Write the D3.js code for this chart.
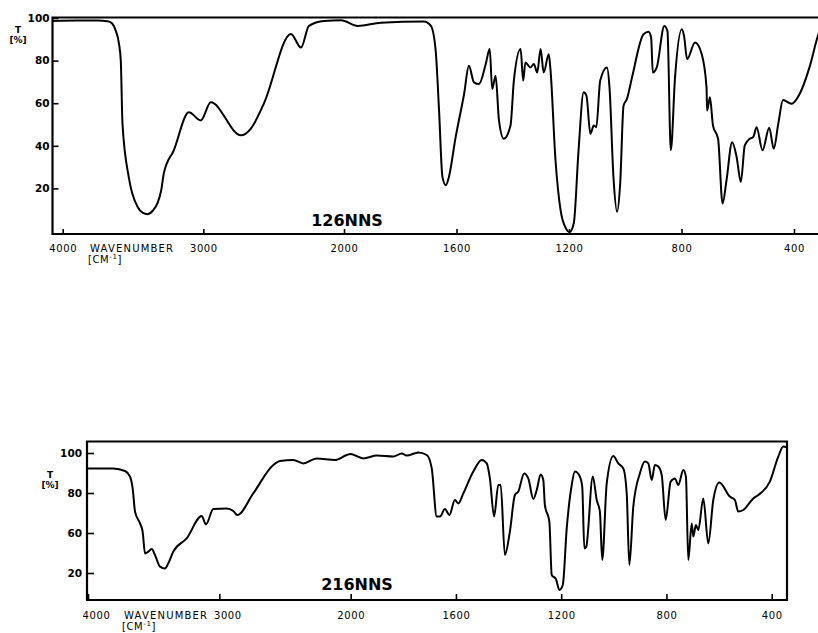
<!DOCTYPE html>
<html>
<head>
	<meta charset="utf-8">
	<title>IR spectra 126NNS / 216NNS</title>
	<script type="text/javascript" src="https://cdn.jsdelivr.net/npm/d3@7"></script>
	<style>
		body {
			margin: 0;
			background: #fff;
		}
		svg text {
			font-family: "DejaVu Sans", Arial, sans-serif;
		}
	</style>
</head>

<body>

	<div id="chart"></div>

	<script>

	// data

	const xTicks = [4000, 3000, 2000, 1600, 1200, 800, 400];

	const topYTicks  = [20, 40, 60, 80, 100];
	const topYLabels = ["20", "40", "60", "80", "100"];

	// the lower panel is printed with 100, 80, 60, 20 on evenly spaced ticks
	const bottomYTicks  = [100, 80, 60, 40];
	const bottomYLabels = ["100", "80", "60", "20"];

	const topName    = "126NNS";
	const bottomName = "216NNS";

	const topWave = [
		4070, 3900, 3750, 3682, 3650, 3623, 3600, 3587, 3575, 3530,
		3468, 3430, 3397, 3360, 3326, 3300, 3281, 3210, 3103, 3018,
		2947, 2733, 2662, 2570, 2377, 2306, 2249, 2142, 2021, 1951,
		1869, 1716, 1691, 1674, 1662, 1650, 1638, 1627, 1603, 1573,
		1556, 1538, 1520, 1496, 1482, 1473, 1461, 1449, 1432, 1408,
		1396, 1372, 1363, 1355, 1337, 1325, 1313, 1301, 1290, 1272,
		1266, 1248, 1230, 1210, 1198, 1183, 1166, 1148, 1138, 1124,
		1112, 1103, 1089, 1065, 1056, 1042, 1029, 1018, 1006, 994,
		976, 935, 917, 908, 902, 888, 861, 850, 838, 823,
		799, 791, 780, 752, 728, 711, 709, 699, 688, 670,
		654, 640, 620, 604, 589, 575, 557, 545, 533, 512,
		488, 472, 456, 439, 409, 380, 345, 315, 300
	];
	const topT = [
		98.6, 98.8, 98.8, 98.5, 97.5, 94, 88, 80, 50.5, 25.2,
		11.4, 8.5, 7.9, 9.5, 13.1, 19, 27.1, 37.9, 55.7, 51.9,
		60.4, 44.9, 48.1, 59.8, 92.5, 86.1, 96.3, 98.6, 98.9, 96.3,
		97.8, 98.3, 96.3, 84.6, 56.5, 25.4, 21.5, 25.4, 44.1, 64.3,
		77.6, 69.8, 69.0, 78.4, 85.4, 66.7, 72.9, 51.9, 43.3, 49.5,
		70.6, 85.4, 70.6, 79.1, 76.8, 78.4, 74.4, 85.4, 74.4, 83.0,
		76.0, 33.2, 9.8, 1, -0.5, 3.6, 38, 65.1, 63.6, 45.6,
		49.5, 48.7, 70.6, 76.8, 67.4, 25.4, 9.0, 22.3, 58.9, 62.0,
		72.1, 92.4, 93.6, 90.8, 74.4, 76.8, 96.3, 93.9, 37.9, 72.1,
		94.7, 91.6, 80.7, 88.5, 83.0, 67.4, 56.5, 62.8, 49.5, 43.3,
		12.9, 23.8, 41.7, 34.7, 23.0, 40.2, 43.3, 44.1, 48.7, 37.9,
		48.5, 38.6, 50.3, 61.5, 59.7, 64.3, 76.8, 91.6, 97
	];

	const bottomWave = [
		4010, 3807, 3718, 3680, 3660, 3642, 3604, 3584, 3566, 3541,
		3515, 3490, 3452, 3414, 3389, 3351, 3249, 3134, 3102, 3046,
		2944, 2894, 2863, 2742, 2589, 2538, 2437, 2361, 2259, 2119,
		2030, 2003, 1952, 1901, 1838, 1806, 1787, 1743, 1711, 1692,
		1673, 1661, 1642, 1625, 1604, 1591, 1572, 1534, 1502, 1483,
		1471, 1455, 1439, 1430, 1414, 1395, 1376, 1363, 1341, 1325,
		1306, 1293, 1278, 1268, 1262, 1245, 1236, 1220, 1207, 1194,
		1179, 1160, 1148, 1129, 1120, 1112, 1105, 1080, 1065, 1053,
		1044, 1027, 1002, 983, 964, 951, 941, 926, 901, 882,
		869, 856, 844, 831, 818, 803, 784, 768, 755, 736,
		726, 717, 704, 698, 688, 679, 660, 641, 622, 599,
		559, 540, 527, 508, 470, 451, 407, 375, 356, 343
	];
	const bottomT = [
		92.3, 92.3, 91, 88.2, 82.3, 70.7, 64.8, 60.7, 49.8, 50.7,
		52, 49, 43.2, 42.3, 44.8, 50.7, 57.3, 68.5, 64.3, 72,
		72.3, 71, 69, 79.8, 94, 96, 96.5, 94.8, 97.3, 96.5,
		99, 99.5, 97.3, 98.7, 98.2, 99.8, 98.7, 100.3, 99, 92.3,
		68.2, 68.2, 72, 69, 76.5, 74.8, 79.8, 90.7, 96.5, 94.8,
		87.3, 68.2, 84, 84, 49, 60.7, 79, 80.7, 89.8, 87.3,
		77, 81.5, 89.3, 86.5, 74, 65.7, 39, 37, 31.5, 34,
		62.3, 84, 90.7, 88.2, 83, 52.3, 53, 88.2, 76.5, 70.7,
		46.5, 84.8, 98.5, 94.8, 92.3, 79.8, 44, 73.2, 89.8, 95.7,
		94.8, 86.5, 94, 93.2, 89, 66.5, 85.7, 87.3, 84, 91.5,
		88.2, 46.5, 64.8, 58.2, 64, 61.5, 77.3, 54.8, 76.5, 85.2,
		78.2, 76.5, 70.7, 71.5, 77.3, 79, 85.7, 98.2, 103.2, 102.8
	];

	const width  = 818;
	const height = 633;

	const svg = d3.select("#chart")
		.append("svg")
		.attr("width", width)
		.attr("height", height)
		.attr("viewBox", [0, 0, width, height]);

	function spectrum(svg, wave, T, {
			frame,           // [left, top, right, bottom] of the box
			xRange,          // pixel positions of 4000, 2000 and 400 cm-1
			yDomain,
			yRange,
			yTicks,
			yLabels,
			yPad,
			xPad,
			tickLen,
			closed = true,   // draw the right edge of the box
			name,
			nameAt,
			unitAt,
			waveAt,
			labelShift = () => 0
		}) {
		// IR charts: 4000-2000 at half the scale of 2000-400
		const x = d3.scaleLinear().domain([4000, 2000, 400]).range(xRange);
		const y = d3.scaleLinear().domain(yDomain).range(yRange);

		const [l, t, r, b] = frame;

		const g = svg.append("g");

		g.append("path")
			.attr("fill", "none")
			.attr("stroke", "#000")
			.attr("stroke-width", 2.2)
			.attr("d", closed
				? `M${l},${t}H${r}V${b}H${l}Z`
				: `M${r},${t}H${l}V${b}H${r}`);

		const xAxis = g.append("g")
			.attr("transform", `translate(0,${b})`)
			.call(d3.axisBottom(x)
				.tickValues(xTicks)
				.tickSize(-tickLen)
				.tickPadding(xPad)
				.tickFormat(d3.format("d")));
		xAxis.select(".domain").remove();
		xAxis.selectAll("line").attr("stroke-width", 1.6);
		xAxis.selectAll("text")
			.attr("font-size", 10)
			.attr("font-family", "DejaVu Sans, sans-serif")
			.attr("letter-spacing", 0.6)
			.attr("dx", labelShift);

		const yAxis = g.append("g")
			.attr("transform", `translate(${l},0)`)
			.call(d3.axisLeft(y)
				.tickValues(yTicks)
				.tickSize(-tickLen - 1)
				.tickPadding(yPad)
				.tickFormat((d, i) => yLabels[i]));
		yAxis.select(".domain").remove();
		yAxis.selectAll("line").attr("stroke-width", 1.6);
		yAxis.selectAll("text")
			.attr("font-size", 10.5)
			.attr("font-weight", "bold")
			.attr("font-family", "DejaVu Sans, sans-serif");

		const line = d3.line()
			.x(i => x(wave[i]))
			.y(i => y(T[i]))
			.curve(d3.curveMonotoneX);

		g.append("path")
			.attr("fill", "none")
			.attr("stroke", "#000")
			.attr("stroke-width", 2)
			.attr("stroke-linejoin", "round")
			.attr("d", line(d3.range(wave.length)));

		// axis captions
		g.append("text")
			.attr("x", unitAt[0])
			.attr("y", unitAt[1])
			.attr("text-anchor", "middle")
			.attr("font-size", 9)
			.attr("font-weight", "bold")
			.text("T");
		g.append("text")
			.attr("x", unitAt[0])
			.attr("y", unitAt[1] + 10)
			.attr("text-anchor", "middle")
			.attr("font-size", 9)
			.attr("font-weight", "bold")
			.text("[%]");

		g.append("text")
			.attr("x", waveAt[0])
			.attr("y", waveAt[1])
			.attr("font-size", 10)
			.attr("letter-spacing", 1.2)
			.text("WAVENUMBER");
		const cm = g.append("text")
			.attr("x", waveAt[0] - 2)
			.attr("y", waveAt[1] + 11)
			.attr("font-size", 10)
			.attr("letter-spacing", 0.6);
		cm.append("tspan").text("[CM");
		cm.append("tspan").attr("dy", -4).attr("font-size", 7).text("-1");
		cm.append("tspan").attr("dy", 4).text("]");

		g.append("text")
			.attr("x", nameAt[0])
			.attr("y", nameAt[1])
			.attr("text-anchor", "middle")
			.attr("font-family", "Liberation Sans, Arial, sans-serif")
			.attr("font-weight", "bold")
			.attr("font-size", 16)
			.text(name);
	}

	spectrum(svg, topWave, topT, {
		frame: [52.5, 17.5, 830, 234],
		xRange: [62.7, 344, 794],
		yDomain: [0, 100],
		yRange: [231, 18],
		yTicks: topYTicks,
		yLabels: topYLabels,
		yPad: 3,
		xPad: 11,
		tickLen: 5,
		closed: false,
		name: topName,
		nameAt: [347, 226],
		unitAt: [18, 33],
		waveAt: [90, 252]
	});

	spectrum(svg, bottomWave, bottomT, {
		frame: [87, 441.5, 787, 600],
		xRange: [88, 350.7, 771.7],
		yDomain: [40, 100],
		yRange: [573, 453],
		yTicks: bottomYTicks,
		yLabels: bottomYLabels,
		yPad: 5,
		xPad: 12,
		tickLen: 6,
		closed: true,
		name: bottomName,
		nameAt: [357, 590],
		unitAt: [50, 478],
		waveAt: [124, 619],
		labelShift: d => (d >= 3000 ? 8 : 0)
	});

	</script>

</body>

</html>
